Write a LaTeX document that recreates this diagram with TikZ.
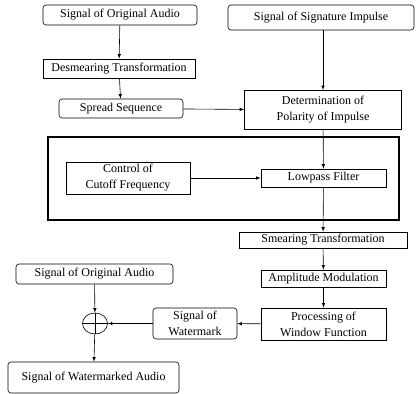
\documentclass[tikz,border=0pt]{standalone}
\usepackage{fontspec}
\setmainfont{Liberation Serif}
\usepackage{tikz}
\usetikzlibrary{arrows,positioning,calc,shapes.geometric}
\tikzstyle{block}  = [draw,line width=0.6pt,inner sep=1pt,align=center,font=\fontsize{12}{16}\selectfont]
\tikzstyle{signal} = [block,rounded corners=3pt]
\tikzstyle{flow}   = [->,line width=0.6pt,arrows={-latex}]
\tikzstyle{frame}  = [draw,line width=1.6pt,inner sep=0pt]
\tikzstyle{adder}  = [draw,line width=0.6pt,ellipse,minimum width=25pt,minimum height=21pt,inner sep=0pt]

\begin{document}
\begin{tikzpicture}[x=1pt,y=-1pt]
                  \useasboundingbox (0,0) rectangle (416,394);
                  \node (grp)[frame,minimum width=351pt,minimum height=83pt] at (223.5,178.5) {};

                  \node (orig)[signal,minimum width=154pt,minimum height=20pt] at (120,15) {Signal of Original Audio};
                  \node (sig)[signal,minimum width=186pt,minimum height=25pt] at (321,17.5) {Signal of Signature Impulse};
                  \node (desm)[block,minimum width=152pt,minimum height=19pt] at (119,68.5) {Desmearing Transformation};
                  \node (spread)[signal,minimum width=124pt,minimum height=19pt] at (121,108.5) {Spread Sequence};
                  \node (polar)[block,minimum width=157pt,minimum height=39pt] at (323,110) {Determination of\\Polarity of Impulse};
                  \node (cutoff)[block,minimum width=124pt,minimum height=32pt] at (128,178) {Control of\\Cutoff Frequency};
                  \node (lowp)[block,minimum width=125pt,minimum height=18pt] at (323.5,178) {Lowpass Filter};
                  \node (smear)[block,minimum width=168pt,minimum height=16pt] at (323,240) {Smearing Transformation};
                  \node (ampl)[block,minimum width=125pt,minimum height=17pt] at (323.5,278.5) {Amplitude Modulation};
                  \node (wind)[block,minimum width=125pt,minimum height=32pt] at (323.5,324) {Processing of\\Window Function};
                  \node (wmark)[signal,minimum width=84pt,minimum height=31pt] at (195,323.5) {Signal of\\Watermark};
                  \node (sum)[adder] at (95,323.5) {};
                  \node (orig2)[signal,minimum width=157pt,minimum height=20pt] at (94.5,274) {Signal of Original Audio};
                  \node (out)[signal,minimum width=171pt,minimum height=31pt] at (93.5,377.5) {Signal of Watermarked Audio};

                  \draw[line width=0.6pt] (sum.north) -- (sum.south);
                  \draw[line width=0.6pt] (sum.west) -- (sum.east);

                  \draw[flow] (orig) -- (desm);
                  \draw[flow] (desm) -- (spread);
                  \draw[flow] (spread) -- (polar);
                  \draw[flow] (sig.south -| polar.north) -- (polar.north);
                  \draw[flow] (polar) -- (lowp);
                  \draw[flow] (cutoff) -- (lowp);
                  \draw[flow] (lowp) -- (smear);
                  \draw[flow] (smear) -- (ampl);
                  \draw[flow] (ampl) -- (wind);
                  \draw[flow] (wind) -- (wmark);
                  \draw[flow] (wmark) -- (sum);
                  \draw[flow] (orig2) -- (sum);
                  \draw[flow] (sum) -- (out);
            \end{tikzpicture}
\end{document}
